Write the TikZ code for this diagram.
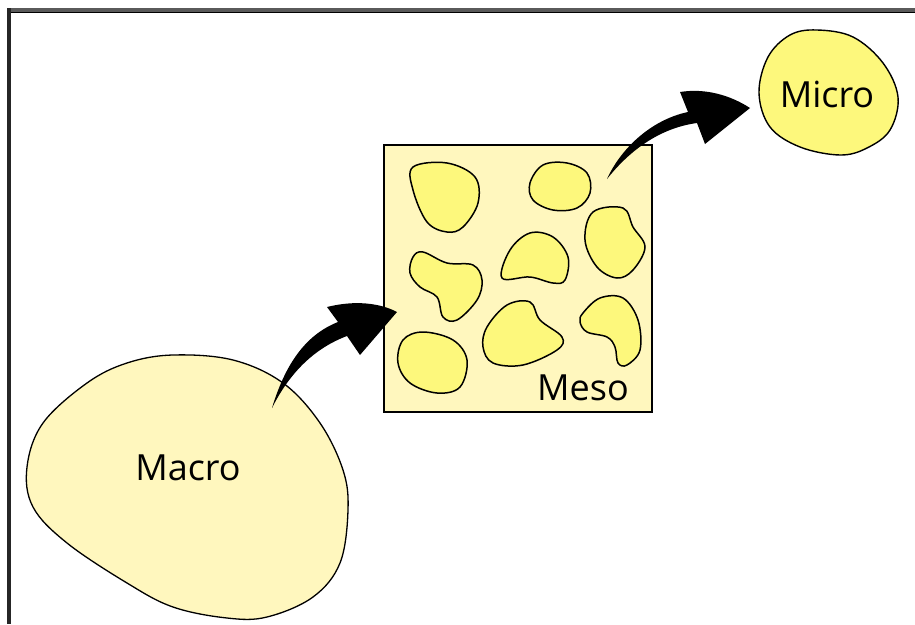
\documentclass[tikz,border=0pt]{standalone}
\usepackage{fontspec}
\setmainfont{Open Sans}
\definecolor{paleY}{HTML}{FFF7BE}
\definecolor{brightY}{HTML}{FDF87C}
\definecolor{frameG}{HTML}{5A5A5A}
\tikzset{
  blob/.style={draw=black, line width=1.5pt, fill=brightY},
  bigblob/.style={draw=black, line width=1.3pt, fill=paleY},
  lbl/.style={font=\fontsize{36}{40}\selectfont, anchor=base, inner sep=0pt},
  arrowshape/.style={fill=black, draw=none}
}
\begin{document}
\begin{tikzpicture}[x=1pt,y=-1pt]
\useasboundingbox (0,0) rectangle (915,624);
\fill[white] (0,0) rectangle (915,624);
% frame
\fill[frameG] (7,8) rectangle (915,12);
\draw[black, line width=1pt] (10,12.5) -- (915,12.5);
\fill[black!85] (7,8) rectangle (11,624);

% Macro blob
\draw[bigblob] plot[smooth cycle, tension=0.6] coordinates {
 (173,355) (233,360) (283,383) (320,423) (343,470) (348,510) (340,563)
 (313,597) (267,617) (227,618) (173,607) (127,583) (67,543) (33,507)
 (27,467) (43,423) (87,383) (127,363)};
\node[lbl] (macro) at (188,480) {Macro};

% Meso box
\draw[line width=1.5pt, fill=paleY] (384,145) rectangle (652,412);
\coordinate (mesoW) at (397,312);
\coordinate (mesoNE) at (607,179);
% inner blobs
\draw[blob] plot[smooth cycle, tension=0.6] coordinates {
 (413,167) (447,163) (475,177) (478,203) (463,227) (447,232) (427,222) (413,190)};
\draw[blob] plot[smooth cycle, tension=0.6] coordinates {
 (530,183) (543,165) (567,163) (587,173) (590,193) (577,208) (553,210) (533,200)};
\draw[blob] plot[smooth cycle, tension=0.6] coordinates {
 (593,212) (623,208) (633,227) (645,247) (633,270) (617,278) (597,267) (585,240)};
\draw[blob] plot[smooth cycle, tension=0.6] coordinates {
 (413,257) (423,252) (447,263) (473,265) (482,280) (477,300) (457,320) (443,317)
 (437,297) (420,287) (410,273)};
\draw[blob] plot[smooth cycle, tension=0.6] coordinates {
 (502,278) (510,250) (530,233) (553,237) (568,257) (565,280) (553,283) (530,277)};
\draw[blob] plot[smooth cycle, tension=0.6] coordinates {
 (403,340) (423,332) (453,340) (467,360) (460,387) (437,393) (410,383) (398,363)};
\draw[blob] plot[smooth cycle, tension=0.6] coordinates {
 (487,327) (507,305) (530,302) (540,320) (562,337) (557,350) (523,365) (493,363) (483,347)};
\draw[blob] plot[smooth cycle, tension=0.6] coordinates {
 (583,313) (600,298) (623,298) (638,320) (640,350) (627,365) (618,363) (615,347)
 (607,337) (587,332) (580,322)};
\node[lbl] (meso) at (583,400) {Meso};

% Micro blob
\draw[blob, line width=1.4pt] plot[smooth cycle, tension=0.6] coordinates {
 (817,30) (853,37) (883,63) (898,97) (890,130) (867,148) (840,155) (800,147)
 (770,127) (759,93) (768,57) (790,35)};
\node[lbl] (micro) at (827,107) {Micro};

% connectors
\coordinate (macroTail) at (272,408);
\coordinate (microW) at (750,108);
\fill[arrowshape] (macroTail) .. controls (285,365) and (305,335) .. (338,322)
  -- (327,307) .. controls (355,300) and (380,303) .. (mesoW)
  -- (360,355) -- (347,336) .. controls (315,348) and (290,372) .. (macroTail) -- cycle;
\fill[arrowshape] (mesoNE) .. controls (620,150) and (650,120) .. (688,112)
  -- (680,92) .. controls (705,88) and (730,95) .. (microW)
  -- (705,144) -- (697,123) .. controls (660,128) and (630,150) .. (mesoNE) -- cycle;
\end{tikzpicture}
\end{document}
